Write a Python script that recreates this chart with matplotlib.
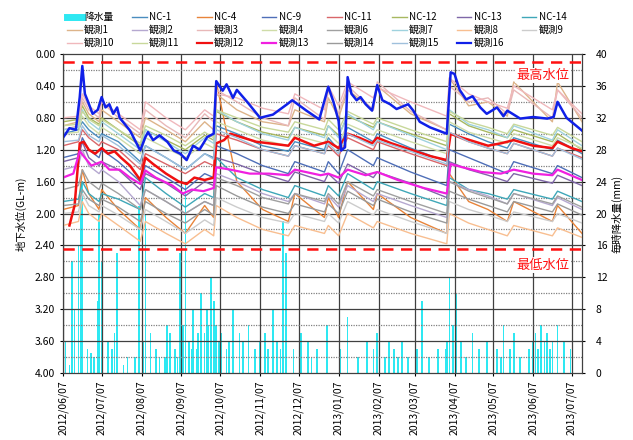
import matplotlib
matplotlib.use("Agg")
import matplotlib.pyplot as plt
import matplotlib.dates as mdates
import numpy as np
import pandas as pd
from matplotlib.lines import Line2D

plt.rcParams['font.family'] = ['Noto Sans CJK JP', 'DejaVu Sans']

START = pd.Timestamp("2012-06-07")

# Observation dates shared by the thin well series
node_dates = pd.to_datetime([
    "2012-06-07", "2012-06-19", "2012-06-22", "2012-06-27", "2012-07-05", "2012-07-07",
    "2012-07-20", "2012-08-06", "2012-08-10", "2012-08-26", "2012-09-10", "2012-09-25",
    "2012-10-02", "2012-10-04", "2012-10-20", "2012-11-09", "2012-11-29", "2012-12-04",
    "2012-12-27", "2012-12-30", "2013-01-07", "2013-01-14", "2013-02-03", "2013-02-06",
    "2013-03-04", "2013-04-01", "2013-04-03", "2013-04-18", "2013-05-03", "2013-05-18",
    "2013-05-23", "2013-06-22", "2013-06-26", "2013-07-15"])

# Groundwater level (GL-m) per well
nc1 = [1.00, 0.95, 0.85, 0.95, 1.05, 1.00, 1.10, 1.35, 1.15, 1.30, 1.45, 1.25, 1.30, 0.90, 1.00, 1.15, 1.22,
       1.10, 1.20, 1.05, 1.20, 0.92, 1.10, 1.00, 1.18, 1.35, 0.88, 1.00, 1.10, 1.18, 1.05, 1.20, 1.08, 1.25]
nc4 = [1.95, 1.90, 1.45, 1.75, 1.95, 1.70, 1.95, 2.20, 1.80, 2.05, 2.25, 1.90, 2.05, 0.35, 1.60, 1.95, 2.10,
       1.75, 2.05, 1.80, 2.05, 1.60, 1.95, 1.75, 2.05, 2.25, 1.50, 1.85, 1.95, 2.10, 1.85, 2.10, 1.90, 2.25]
nc9 = [1.30, 1.25, 1.05, 1.20, 1.30, 1.20, 1.35, 1.60, 1.40, 1.55, 1.70, 1.50, 1.55, 1.15, 1.25, 1.40, 1.50,
       1.35, 1.48, 1.35, 1.50, 1.20, 1.40, 1.30, 1.48, 1.65, 1.20, 1.30, 1.40, 1.50, 1.35, 1.50, 1.40, 1.55]
nc11 = [1.15, 1.10, 0.95, 1.05, 1.15, 1.10, 1.20, 1.45, 1.25, 1.38, 1.50, 1.35, 1.40, 1.00, 1.08, 1.20, 1.28,
        1.15, 1.25, 1.15, 1.28, 1.05, 1.20, 1.10, 1.25, 1.40, 1.00, 1.10, 1.18, 1.25, 1.12, 1.28, 1.18, 1.30]
nc12 = [0.85, 0.82, 0.65, 0.80, 0.88, 0.80, 0.95, 1.15, 0.95, 1.08, 1.20, 1.02, 1.08, 0.72, 0.85, 0.98, 1.05,
        0.92, 1.02, 0.90, 1.02, 0.78, 0.92, 0.85, 1.00, 1.15, 0.75, 0.90, 0.98, 1.05, 0.95, 1.10, 1.00, 1.20]
nc13 = [1.35, 1.30, 1.10, 1.30, 1.40, 1.35, 1.45, 1.70, 1.50, 1.62, 1.78, 1.60, 1.65, 1.30, 1.38, 1.50, 1.60,
        1.48, 1.60, 1.50, 1.62, 1.38, 1.55, 1.48, 1.62, 1.80, 1.35, 1.45, 1.52, 1.60, 1.50, 1.62, 1.52, 1.65]
nc14 = [1.85, 1.82, 1.60, 1.75, 1.85, 1.75, 1.82, 1.95, 1.55, 1.75, 1.92, 1.75, 1.80, 1.30, 1.55, 1.70, 1.80,
        1.65, 1.78, 1.65, 1.78, 1.50, 1.70, 1.60, 1.75, 1.90, 1.55, 1.70, 1.75, 1.82, 1.70, 1.82, 1.72, 1.85]
obs1 = [0.90, 0.85, 0.60, 0.75, 0.85, 0.70, 0.85, 1.05, 0.80, 0.95, 1.10, 0.85, 0.95, 0.50, 0.70, 0.85, 0.90,
        0.70, 0.85, 0.55, 0.80, 0.45, 0.70, 0.40, 0.75, 0.95, 0.30, 0.65, 0.60, 0.78, 0.35, 0.85, 0.35, 0.85]
obs2 = [1.45, 1.40, 1.20, 1.40, 1.50, 1.45, 1.60, 1.90, 1.70, 1.85, 2.00, 1.85, 1.90, 1.50, 1.60, 1.75, 1.85,
        1.75, 1.88, 1.78, 1.92, 1.65, 1.85, 1.75, 1.90, 2.05, 1.60, 1.70, 1.78, 1.88, 1.75, 1.90, 1.80, 1.95]
obs3 = [0.95, 0.90, 0.55, 0.70, 0.80, 0.60, 0.80, 1.00, 0.70, 0.90, 1.05, 0.75, 0.85, 0.45, 0.60, 0.80, 0.90,
        0.55, 0.82, 0.45, 0.75, 0.40, 0.70, 0.35, 0.72, 0.95, 0.40, 0.60, 0.55, 0.75, 0.45, 0.80, 0.45, 0.80]
obs4 = [1.00, 0.98, 0.78, 0.90, 1.00, 0.92, 1.05, 1.25, 1.05, 1.18, 1.30, 1.12, 1.18, 0.85, 0.95, 1.08, 1.15,
        1.02, 1.12, 1.00, 1.12, 0.88, 1.02, 0.95, 1.10, 1.25, 0.85, 0.98, 1.05, 1.12, 1.00, 1.15, 1.05, 1.18]
obs6 = [1.70, 1.65, 1.45, 1.60, 1.70, 1.62, 1.75, 1.95, 1.70, 1.85, 2.00, 1.85, 1.90, 1.55, 1.65, 1.80, 1.88,
        1.75, 1.85, 1.75, 1.88, 1.60, 1.78, 1.70, 1.85, 2.00, 1.60, 1.72, 1.80, 1.88, 1.75, 1.88, 1.78, 1.92]
obs7 = [0.95, 0.92, 0.70, 0.85, 0.95, 0.85, 1.00, 1.20, 0.95, 1.10, 1.25, 1.05, 1.12, 0.70, 0.85, 1.00, 1.08,
        0.92, 1.05, 0.90, 1.05, 0.75, 0.95, 0.85, 1.02, 1.20, 0.70, 0.88, 0.95, 1.05, 0.90, 1.08, 0.95, 1.15]
obs8 = [2.15, 2.10, 1.85, 2.00, 2.10, 2.00, 2.15, 2.35, 2.10, 2.25, 2.38, 2.20, 2.28, 1.90, 2.05, 2.20, 2.28,
        2.15, 2.25, 2.15, 2.28, 2.00, 2.18, 2.10, 2.25, 2.38, 2.00, 2.12, 2.20, 2.28, 2.15, 2.28, 2.18, 2.30]
obs9 = [2.00, 1.98, 1.75, 1.90, 1.98, 1.90, 2.02, 2.20, 1.95, 2.10, 2.25, 2.08, 2.15, 1.80, 1.92, 2.05, 2.12,
        2.00, 2.10, 2.00, 2.12, 1.85, 2.02, 1.95, 2.10, 2.25, 1.85, 1.95, 2.02, 2.10, 1.98, 2.10, 2.00, 2.12]
obs10 = [0.80, 0.78, 0.50, 0.65, 0.75, 0.60, 0.75, 0.95, 0.60, 0.80, 0.95, 0.70, 0.78, 0.50, 0.55, 0.68, 0.75,
         0.50, 0.70, 0.40, 0.65, 0.35, 0.55, 0.42, 0.60, 0.78, 0.30, 0.50, 0.60, 0.68, 0.40, 0.70, 0.45, 0.75]
obs11 = [0.90, 0.88, 0.72, 0.82, 0.90, 0.82, 0.95, 1.12, 0.90, 1.02, 1.15, 0.98, 1.05, 0.70, 0.80, 0.92, 0.98,
         0.85, 0.95, 0.82, 0.95, 0.72, 0.88, 0.80, 0.95, 1.10, 0.72, 0.85, 0.92, 1.00, 0.88, 1.02, 0.92, 1.10]
obs14 = [1.90, 1.88, 1.70, 1.82, 1.90, 1.82, 1.92, 2.10, 1.85, 2.00, 2.12, 1.95, 2.02, 1.65, 1.78, 1.92, 2.00,
         1.88, 1.98, 1.88, 2.00, 1.72, 1.90, 1.82, 1.98, 2.12, 1.72, 1.82, 1.90, 1.98, 1.85, 1.98, 1.88, 2.02]
obs15 = [1.10, 1.08, 0.90, 1.02, 1.10, 1.02, 1.15, 1.38, 1.15, 1.30, 1.45, 1.25, 1.32, 0.95, 1.05, 1.20, 1.28,
         1.15, 1.25, 1.12, 1.25, 1.00, 1.15, 1.08, 1.22, 1.38, 0.98, 1.10, 1.18, 1.25, 1.12, 1.28, 1.18, 1.32]

# Wells 12, 13 and 16 have their own, denser reading days (days after 2012/06/07)
obs12_day = [5, 9, 13, 16, 20, 25, 30, 35, 40, 45, 52, 60, 64, 70, 80, 90, 96, 102, 110, 117, 119, 125, 130,
             140, 150, 160, 175, 180, 195, 206, 214, 221, 230, 240, 244, 255, 270, 285, 298, 301, 310, 320,
             330, 340, 350, 365, 380, 384, 395, 403]
obs12 = [2.15, 1.90, 1.12, 1.10, 1.20, 1.25, 1.18, 1.25, 1.22, 1.30, 1.40, 1.58, 1.30, 1.38, 1.50, 1.60, 1.63,
         1.55, 1.58, 1.55, 1.12, 1.08, 1.00, 1.05, 1.10, 1.12, 1.15, 1.05, 1.15, 1.10, 1.18, 1.00, 1.05, 1.12,
         1.05, 1.12, 1.20, 1.28, 1.33, 1.00, 1.05, 1.10, 1.15, 1.12, 1.08, 1.15, 1.18, 1.10, 1.18, 1.22]
obs13_day = [0, 8, 13, 17, 22, 30, 36, 44, 52, 60, 64, 72, 85, 93, 100, 109, 117, 119, 130, 145, 160, 175, 180,
             200, 206, 214, 221, 235, 244, 260, 280, 298, 301, 310, 325, 340, 350, 365, 380, 384, 403]
obs13 = [1.55, 1.50, 1.22, 1.30, 1.40, 1.35, 1.45, 1.45, 1.55, 1.63, 1.46, 1.55, 1.65, 1.75, 1.70, 1.72, 1.68,
         1.42, 1.45, 1.50, 1.50, 1.52, 1.45, 1.52, 1.50, 1.55, 1.45, 1.52, 1.48, 1.58, 1.68, 1.75, 1.38, 1.42,
         1.48, 1.50, 1.45, 1.50, 1.52, 1.45, 1.58]
obs16_day = [0, 5, 10, 13, 15, 17, 19, 23, 27, 30, 33, 36, 39, 42, 44, 52, 60, 64, 66, 70, 75, 81, 86, 91, 96,
             101, 106, 112, 117, 119, 124, 127, 132, 135, 143, 153, 163, 174, 178, 189, 199, 206, 210, 214,
             216, 219, 221, 224, 228, 231, 235, 240, 244, 248, 254, 259, 268, 272, 277, 285, 298, 301, 304,
             308, 313, 318, 324, 329, 337, 342, 345, 355, 365, 376, 381, 384, 391, 403]
obs16 = [1.05, 0.93, 0.95, 0.54, 0.15, 0.50, 0.58, 0.75, 0.70, 0.54, 0.67, 0.63, 0.75, 0.67, 0.80, 0.96, 1.21,
         1.04, 0.98, 1.08, 1.02, 1.10, 1.21, 1.25, 1.33, 1.15, 1.20, 1.04, 1.00, 0.34, 0.46, 0.38, 0.55, 0.45,
         0.60, 0.80, 0.76, 0.63, 0.58, 0.71, 0.82, 0.41, 0.60, 0.84, 1.21, 1.17, 0.29, 0.50, 0.58, 0.54, 0.63,
         0.71, 0.39, 0.58, 0.63, 0.69, 0.63, 0.71, 0.85, 0.92, 1.00, 0.23, 0.25, 0.45, 0.57, 0.53, 0.67, 0.75,
         0.67, 0.78, 0.71, 0.81, 0.79, 0.81, 0.79, 0.60, 0.80, 0.96]

# Hourly maximum rainfall (mm)
rain_dates = pd.to_datetime([
    "2012-06-07", "2012-06-09", "2012-06-12", "2012-06-14", "2012-06-16", "2012-06-19", "2012-06-21",
    "2012-06-22", "2012-06-26", "2012-06-29", "2012-07-01", "2012-07-04", "2012-07-05", "2012-07-07",
    "2012-07-12", "2012-07-15", "2012-07-17", "2012-07-19", "2012-07-24", "2012-07-27", "2012-08-02",
    "2012-08-05", "2012-08-08", "2012-08-10", "2012-08-14", "2012-08-18", "2012-08-21", "2012-08-25",
    "2012-08-27", "2012-08-29", "2012-09-02", "2012-09-04", "2012-09-06", "2012-09-08", "2012-09-10",
    "2012-09-13", "2012-09-15", "2012-09-16", "2012-09-19", "2012-09-20", "2012-09-22", "2012-09-25",
    "2012-09-27", "2012-09-28", "2012-09-30", "2012-10-02", "2012-10-04", "2012-10-06", "2012-10-08",
    "2012-10-12", "2012-10-14", "2012-10-17", "2012-10-22", "2012-10-25", "2012-10-29", "2012-11-03",
    "2012-11-07", "2012-11-11", "2012-11-13", "2012-11-17", "2012-11-20", "2012-11-23", "2012-11-25",
    "2012-11-27", "2012-12-03", "2012-12-09", "2012-12-14", "2012-12-17", "2012-12-21", "2012-12-29",
    "2013-01-08", "2013-01-14", "2013-01-22", "2013-01-29", "2013-02-03", "2013-02-06", "2013-02-12",
    "2013-02-15", "2013-02-19", "2013-02-22", "2013-02-25", "2013-03-02", "2013-03-09", "2013-03-13",
    "2013-03-18", "2013-03-25", "2013-03-31", "2013-04-01", "2013-04-03", "2013-04-06", "2013-04-08",
    "2013-04-12", "2013-04-16", "2013-04-21", "2013-04-26", "2013-05-02", "2013-05-10", "2013-05-13",
    "2013-05-15", "2013-05-20", "2013-05-23", "2013-05-28", "2013-06-04", "2013-06-07", "2013-06-09",
    "2013-06-11", "2013-06-13", "2013-06-16", "2013-06-18", "2013-06-20", "2013-06-22", "2013-06-26",
    "2013-07-01", "2013-07-06"])
rain_mm = [3.5, 4.0, 1.0, 14.0, 8.0, 16.0, 22.0,
           24.0, 3.0, 2.5, 2.0, 9.0, 20.0, 14.0,
           4.0, 3.0, 5.0, 15.0, 1.0, 2.0, 2.0,
           21.0, 4.0, 20.0, 5.0, 3.0, 2.0, 2.0,
           6.0, 5.0, 3.0, 2.0, 15.0, 6.0, 24.0,
           4.0, 3.0, 8.0, 3.0, 5.0, 10.0, 5.0,
           8.0, 6.0, 12.0, 9.0, 6.0, 4.0, 5.0,
           3.0, 4.0, 8.0, 5.0, 4.0, 6.0, 3.0,
           4.0, 5.0, 3.0, 8.0, 4.0, 3.0, 19.0,
           15.0, 3.0, 5.0, 4.0, 2.0, 3.0, 6.0,
           3.0, 7.0, 2.0, 4.0, 3.0, 5.0, 2.0,
           4.0, 3.0, 2.0, 4.0, 2.0, 3.0, 9.0,
           2.0, 3.0, 3.0, 4.0, 12.0, 6.0, 10.0,
           4.0, 2.0, 5.0, 3.0, 4.0, 3.0, 2.0,
           6.0, 3.0, 5.0, 2.0, 3.0, 4.0, 5.0,
           3.0, 6.0, 4.0, 5.0, 3.0, 4.0, 6.0,
           4.0, 3.0]


def on_days(days):
    return START + pd.to_timedelta(days, unit="D")


# name, dates, values, colour, line width
series = [
    ("NC-1", node_dates, nc1, "#4A8DBF", 1.0), ("NC-4", node_dates, nc4, "#E8843A", 1.0),
    ("NC-9", node_dates, nc9, "#4F6FB8", 1.0), ("NC-11", node_dates, nc11, "#D9666A", 1.0),
    ("NC-12", node_dates, nc12, "#A8B860", 1.0), ("NC-13", node_dates, nc13, "#7F67A8", 1.0),
    ("NC-14", node_dates, nc14, "#3FA7B8", 1.0),
    ("観測1", node_dates, obs1, "#DDB48A", 1.0), ("観測2", node_dates, obs2, "#B5A8D0", 1.0),
    ("観測3", node_dates, obs3, "#E8B8B8", 1.0), ("観測4", node_dates, obs4, "#CFDCA8", 1.0),
    ("観測6", node_dates, obs6, "#A0A0A0", 1.0), ("観測7", node_dates, obs7, "#9FD2DE", 1.0),
    ("観測8", node_dates, obs8, "#F8BE90", 1.0), ("観測9", node_dates, obs9, "#CCCCCC", 1.0),
    ("観測10", node_dates, obs10, "#F0B8BC", 1.0), ("観測11", node_dates, obs11, "#C8D89A", 1.0),
    ("観測12", on_days(obs12_day), obs12, "#F01010", 1.8),
    ("観測13", on_days(obs13_day), obs13, "#F020E0", 1.6),
    ("観測14", node_dates, obs14, "#9A9A9A", 1.0), ("観測15", node_dates, obs15, "#9FC0DC", 1.0),
    ("観測16", on_days(obs16_day), obs16, "#1020E8", 1.8),
]

tick_dates = pd.date_range("2012-06-01", "2013-07-01", freq="MS") + pd.Timedelta(days=6)
level_ticks = np.arange(0, 4.01, 0.4)
rain_ticks = np.arange(0, 41, 4)

fig = plt.figure(figsize=(6.33, 4.40), dpi=100)
ax = fig.add_axes([63 / 633, 1 - 373 / 440, (582 - 63) / 633, (373 - 54) / 440])
ax2 = ax.twinx()

# rainfall bars on the right axis, behind the well lines
ax2.bar(rain_dates, rain_mm, width=1.3, color="#2EE8F2", align="center", zorder=1)
ax2.set_ylim(0, 40)
ax2.set_yticks(rain_ticks)
ax2.tick_params(axis="y", labelsize=7.5, length=2, pad=8)
ax2.set_ylabel("毎時降水量(mm)", fontsize=7.5, labelpad=3)

ax.set_zorder(ax2.get_zorder() + 1)
ax.patch.set_visible(False)

ax.set_ylim(4.0, 0.0)
ax.set_xlim(START, pd.Timestamp("2013-07-15"))
ax.set_yticks(level_ticks)
ax.set_yticklabels([f"{v:.2f}" for v in level_ticks])
ax.tick_params(axis="y", labelsize=7.5, length=2)
ax.set_xticks(tick_dates)
ax.xaxis.set_major_formatter(mdates.DateFormatter("%Y/%m/%d"))
ax.tick_params(axis="x", labelsize=7.5, rotation=90, length=2)
ax.set_ylabel("地下水位(GL-m)", fontsize=7.5, labelpad=6)

# grid: solid month lines, solid 0.4 m lines, dotted 0.2 m lines
for d in tick_dates:
    ax.axvline(d, color="#404040", lw=0.9, zorder=0.5)
for v in level_ticks[1:-1]:
    ax.axhline(v, color="#404040", lw=0.9, zorder=0.5)
for v in np.arange(0.2, 4.0, 0.4):
    ax.axhline(v, color="#808080", lw=0.9, ls=(0, (1, 1)), zorder=0.5)

for name, dates, vals, color, lw in series:
    ax.plot(dates, vals, color=color, lw=lw, zorder=2)

# management levels
ax.axhline(0.10, color="#FF1010", lw=1.8, ls=(0, (4.5, 3)), zorder=3)
ax.axhline(2.45, color="#FF1010", lw=1.8, ls=(0, (4.5, 3)), zorder=3)
ax.text(pd.Timestamp("2013-06-15"), 0.27, "最高水位", color="#FF1010", fontsize=9.5,
        ha="center", va="center", zorder=4,
        bbox=dict(facecolor="white", edgecolor="none", pad=1))
ax.text(pd.Timestamp("2013-06-15"), 2.65, "最低水位", color="#FF1010", fontsize=9.5,
        ha="center", va="center", zorder=4,
        bbox=dict(facecolor="white", edgecolor="none", pad=1))

for sp in ax.spines.values():
    sp.set_color("#404040")

# legend laid out row by row, 8 columns
handles = [Line2D([], [], color="#2EE8F2", lw=5)] + \
    [Line2D([], [], color=s[3], lw=(1.6 if s[4] > 1.2 else 1.0)) for s in series]
labels = ["降水量"] + [s[0] for s in series]
rows = [list(range(0, 8)), list(range(8, 16)), list(range(16, 23))]
order = []
for c in range(8):
    for r in rows:
        if c < len(r):
            order.append(r[c])
fig.legend([handles[i] for i in order], [labels[i] for i in order], ncol=8,
           loc="upper left", bbox_to_anchor=(67 / 633, 1 - 12 / 440), frameon=False,
           fontsize=7, handlelength=1.5, handletextpad=0.25, columnspacing=1.8,
           labelspacing=0.32, borderpad=0.0, borderaxespad=0.0)

fig.savefig("out.png", dpi=100)
